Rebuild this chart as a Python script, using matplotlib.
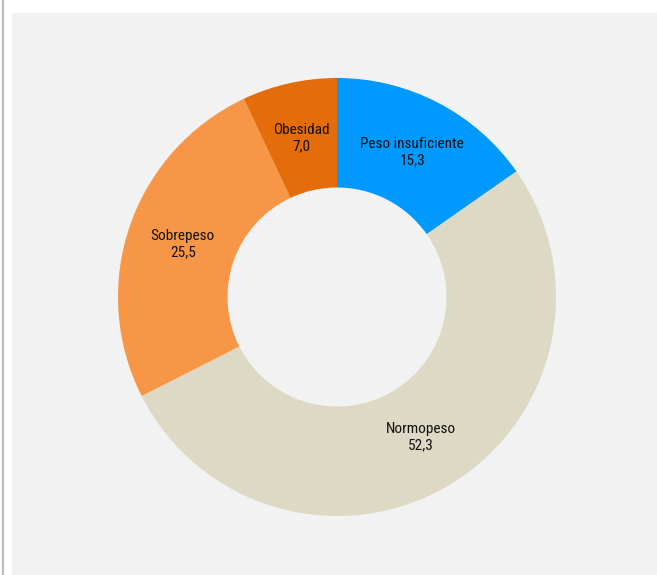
import matplotlib
matplotlib.use('Agg')
import matplotlib.pyplot as plt
from matplotlib.lines import Line2D
from matplotlib import font_manager

categories = ['Peso insuficiente', 'Normopeso', 'Sobrepeso', 'Obesidad']
values = [15.3, 52.3, 25.5, 7.0]
colors = ['#0099FF', '#DDD9C4', '#F79646', '#E46C0A']

# narrow font if there is one, else condensed DejaVu
names = {f.name for f in font_manager.fontManager.ttflist}
fam = 'DejaVu Sans'
for cand in ['Liberation Sans Narrow', 'Roboto Condensed', 'Open Sans Condensed']:
    if cand in names:
        fam = cand
        break
plt.rcParams['font.family'] = [fam, 'DejaVu Sans']

W, H = 657, 575
fig = plt.figure(figsize=(W / 100, H / 100), dpi=100)
fig.patch.set_facecolor('white')

# gray panel as a background axes
bg = fig.add_axes([12 / W, 0, 1 - 12 / W, (H - 13) / H], zorder=0)
bg.set_facecolor('#F2F2F2')
bg.set_xticks([])
bg.set_yticks([])
for s in bg.spines.values():
    s.set_visible(False)

fig.lines.append(Line2D([2.5 / W, 2.5 / W], [0, 1], transform=fig.transFigure,
                        color='#BFBFBF', linewidth=1.6))

cx, cy, r = 337, 297, 219
ax = fig.add_axes([(cx - r) / W, (H - cy - r) / H, 2 * r / W, 2 * r / H], zorder=2)
ax.set_facecolor('none')

labels = [f'{c}\n{v:.1f}'.replace('.', ',') for c, v in zip(categories, values)]
wedges, texts = ax.pie(values, colors=colors, startangle=90, counterclock=False,
                       radius=1, wedgeprops=dict(width=0.5, edgecolor='none'),
                       labels=labels, labeldistance=0.745,
                       textprops=dict(ha='center', va='center', fontsize=11,
                                      fontstretch='condensed',
                                      color='#111111', linespacing=1.2))
ax.set_xlim(-1, 1)
ax.set_ylim(-1, 1)
ax.set_aspect('equal')
ax.axis('off')

fig.savefig('out.png', dpi=100, facecolor='white')
